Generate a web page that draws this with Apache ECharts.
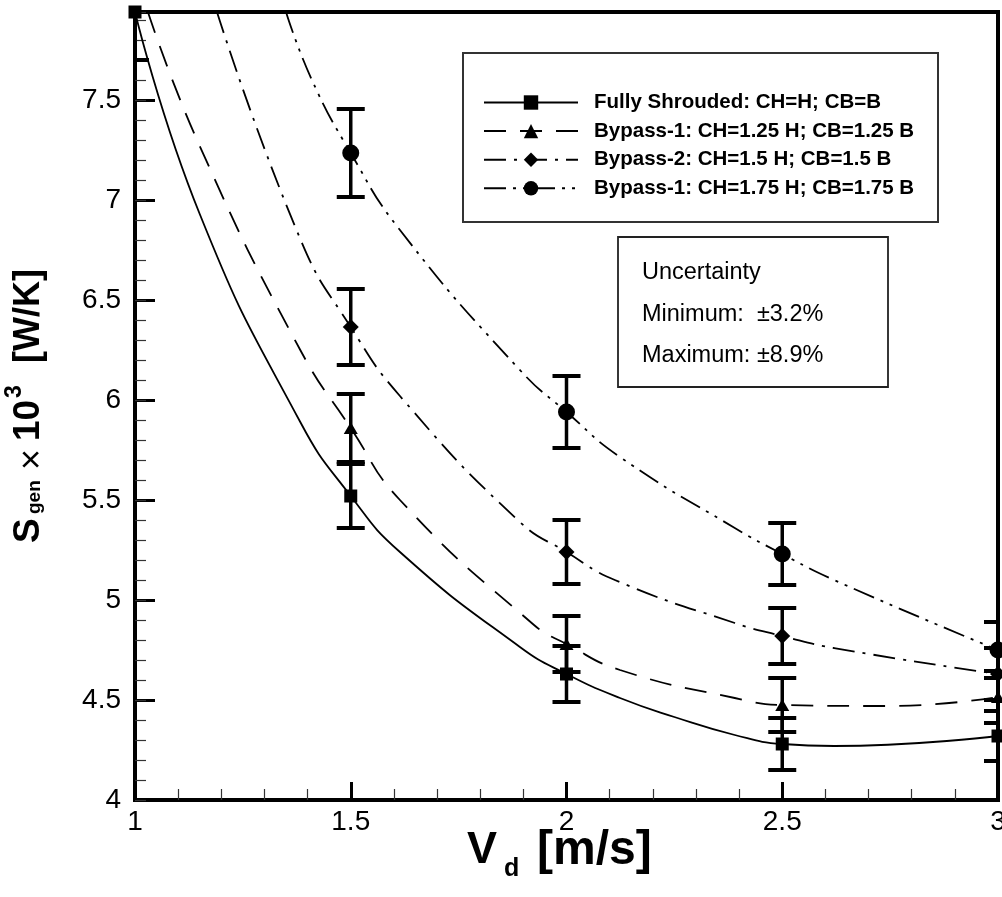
<!DOCTYPE html>
<html>
<head>
<meta charset="utf-8">
<script src="https://cdn.jsdelivr.net/npm/echarts@6/dist/echarts.min.js"></script>
<style>
html,body{margin:0;padding:0;background:#fff;}
#c{width:1002px;height:897px;}
</style>
</head>
<body>
<div id="c"></div>
<script>
// ---------- data ----------
const velocity = [1, 1.5, 2, 2.5, 3];                 // V_d [m/s]
const xTicks = [1, 1.5, 2, 2.5, 3];
const yTicks = [4, 4.5, 5, 5.5, 6, 6.5, 7, 7.5];

// measured points (S_gen x 10^3 [W/K]) and uncertainty half-heights
const fullyShrouded    = [7.94, 5.52, 4.63, 4.28, 4.32];
const fullyShroudedErr = [0.24, 0.16, 0.14, 0.13, 0.125];
const bypass125        = [null, 5.86, 4.78, 4.475, 4.515];
const bypass125Err     = [null, 0.17, 0.14, 0.135, 0.13];
const bypass150        = [null, 6.365, 5.24, 4.82, 4.63];
const bypass150Err     = [null, 0.19, 0.16, 0.14, 0.13];
const bypass175        = [null, 7.235, 5.94, 5.23, 4.75];
const bypass175Err     = [null, 0.22, 0.18, 0.155, 0.14];

// fitted curves
const fitFullyX = [1, 1.15, 1.383, 1.5, 1.614, 1.892, 2, 2.124, 2.25, 2.39, 2.5, 2.62, 3];
const fitFullyY = [7.94, 6.93, 5.89, 5.52, 5.24, 4.765, 4.63, 4.51, 4.415, 4.325, 4.28, 4.27, 4.32];
const fit125X = [1.03, 1.15, 1.383, 1.5, 1.614, 1.922, 2, 2.124, 2.39, 2.5, 2.75, 3];
const fit125Y = [7.94, 7.27, 6.25, 5.86, 5.5, 4.88, 4.78, 4.65, 4.51, 4.475, 4.47, 4.515];
const fit150X = [1.19, 1.386, 1.5, 1.614, 1.892, 2, 2.112, 2.39, 2.5, 2.62, 3];
const fit150Y = [7.94, 6.79, 6.365, 6.02, 5.39, 5.24, 5.10, 4.885, 4.82, 4.76, 4.63];
const fit175X = [1.35, 1.41, 1.5, 1.614, 1.892, 2, 2.124, 2.39, 2.5, 2.62, 3];
const fit175Y = [7.94, 7.6, 7.235, 6.85, 6.15, 5.94, 5.715, 5.36, 5.23, 5.10, 4.75];

const seriesNames = [
  'Fully Shrouded: CH=H; CB=B',
  'Bypass-1: CH=1.25 H; CB=1.25 B',
  'Bypass-2: CH=1.5 H; CB=1.5 B',
  'Bypass-1: CH=1.75 H; CB=1.75 B'
];
const uncertaintyLines = ['Uncertainty', 'Minimum:  \u00b13.2%', 'Maximum: \u00b18.9%'];

// ---------- chart ----------
const FONT = "'Liberation Sans', Arial, Helvetica, sans-serif";
const Y_MIN = 4, Y_MAX = 7.94;

function pairs(xs, ys) { return xs.map((x, i) => [x, ys[i]]); }
function points(xs, ys, es) {
  const out = [];
  xs.forEach((x, i) => { if (ys[i] != null) out.push([x, ys[i], es[i]]); });
  return out;
}

const groups = [
  { name: seriesNames[0], symbol: 'rect',     size: 13,       dash: 'solid',               fx: fitFullyX, fy: fitFullyY, y: fullyShrouded, e: fullyShroudedErr },
  { name: seriesNames[1], symbol: 'triangle', size: [14, 12], dash: [22, 14],              fx: fit125X,   fy: fit125Y,   y: bypass125,     e: bypass125Err },
  { name: seriesNames[2], symbol: 'diamond',  size: 16,       dash: [22, 8, 3, 8],         fx: fit150X,   fy: fit150Y,   y: bypass150,     e: bypass150Err },
  { name: seriesNames[3], symbol: 'circle',   size: 17,       dash: [22, 7, 3, 7, 3, 7],   fx: fit175X,   fy: fit175Y,   y: bypass175,     e: bypass175Err }
];

function renderErr(params, api) {
  const x = api.value(0), y = api.value(1), e = api.value(2);
  const top = api.coord([x, y + e]);
  const bot = api.coord([x, y - e]);
  const half = 14;
  const st = { stroke: '#000', lineWidth: 4 };
  return {
    type: 'group',
    children: [
      { type: 'line', shape: { x1: top[0], y1: top[1], x2: bot[0], y2: bot[1] }, style: { stroke: '#000', lineWidth: 3.5 } },
      { type: 'line', shape: { x1: top[0] - half, y1: top[1], x2: top[0] + half, y2: top[1] }, style: st },
      { type: 'line', shape: { x1: bot[0] - half, y1: bot[1], x2: bot[0] + half, y2: bot[1] }, style: st }
    ]
  };
}

const series = [];
groups.forEach(g => {
  series.push({
    name: g.name, type: 'line', data: pairs(g.fx, g.fy),
    smooth: 0.5, symbol: g.symbol, showSymbol: false, z: 2,
    lineStyle: { color: '#000', width: 1.8, type: g.dash },
    itemStyle: { color: '#000' },
    emphasis: { disabled: true }, silent: true
  });
});
groups.forEach(g => {
  series.push({
    name: g.name + ' err', type: 'custom', data: points(velocity, g.y, g.e),
    renderItem: renderErr, clip: true, z: 3, silent: true,
    encode: { x: 0, y: 1 }
  });
});
groups.forEach(g => {
  series.push({
    name: g.name + ' pts', type: 'scatter', data: points(velocity, g.y, g.e).map(p => [p[0], p[1]]),
    symbol: g.symbol, symbolSize: g.size, z: 4, silent: true, clip: false,
    itemStyle: { color: '#000', opacity: 1 }, emphasis: { disabled: true }
  });
});

const tickFont = { fontFamily: FONT, fontSize: 28, color: '#000' };

const option = {
  animation: false,
  backgroundColor: '#fff',
  grid: {
    left: 135, right: 4, top: 12, bottom: 97,
    outerBoundsMode: 'none', containLabel: false,
    show: true, borderColor: '#000', borderWidth: 4, backgroundColor: 'transparent'
  },
  xAxis: {
    type: 'value', min: xTicks[0], max: xTicks[xTicks.length - 1], interval: 0.5,
    axisLine: { show: true, onZero: false, lineStyle: { color: '#000', width: 4 } },
    axisTick: { inside: true, length: 18, lineStyle: { color: '#000', width: 3 } },
    minorTick: { show: true, splitNumber: 5, length: 11, lineStyle: { color: '#333', width: 1.2 } },
    axisLabel: Object.assign({ margin: 8 }, tickFont),
    splitLine: { show: false }
  },
  yAxis: [
    {
      type: 'value', min: Y_MIN, max: Y_MAX, interval: 0.5, position: 'left',
      axisLine: { show: true, lineStyle: { color: '#000', width: 4 } },
      axisTick: { inside: true, length: 20, lineStyle: { color: '#000', width: 3 } },
      axisLabel: Object.assign({ margin: 14, showMaxLabel: false,
        formatter: v => (yTicks.indexOf(Math.round(v * 10) / 10) >= 0 ? String(Math.round(v * 10) / 10) : '') }, tickFont),
      splitLine: { show: false }
    },
    {
      type: 'value', min: Y_MIN, max: Y_MAX, interval: 0.1, position: 'left',
      axisLine: { show: false },
      axisTick: { inside: true, length: 11, lineStyle: { color: '#333', width: 1.2 } },
      axisLabel: { show: false },
      splitLine: { show: false }
    }
  ],
  legend: {
    data: seriesNames, orient: 'vertical', left: 483, top: 92, padding: 0,
    itemWidth: 94, itemHeight: 18, itemGap: 7.6, selectedMode: false,
    textStyle: { fontFamily: FONT, fontSize: 20.5, fontWeight: 'bold', color: '#000', lineHeight: 20, padding: [0, 0, 0, 11] }
  },
  graphic: [
    { type: 'rect', z: 1, shape: { x: 463, y: 53, width: 475, height: 169 }, style: { fill: '#fff', stroke: '#333', lineWidth: 2 } },
    { type: 'rect', z: 1, shape: { x: 618, y: 237, width: 270, height: 150 }, style: { fill: '#fff', stroke: '#222', lineWidth: 1.8 } },
    { type: 'text', z: 10, x: 642, y: 273, style: { text: uncertaintyLines[0], fontFamily: FONT, fontSize: 23.5, fill: '#000', align: 'left', verticalAlign: 'middle' } },
    { type: 'text', z: 10, x: 642, y: 315, style: { text: uncertaintyLines[1], fontFamily: FONT, fontSize: 23.5, fill: '#000', align: 'left', verticalAlign: 'middle' } },
    { type: 'text', z: 10, x: 642, y: 356, style: { text: uncertaintyLines[2], fontFamily: FONT, fontSize: 23.5, fill: '#000', align: 'left', verticalAlign: 'middle' } },
    // y axis title: S_gen x 10^3 [W/K]
    { type: 'text', z: 10, x: 29, y: 543, rotation: Math.PI / 2, style: { text: 'S', fontFamily: FONT, fontSize: 37, fontWeight: 'bold', fill: '#000', align: 'left', verticalAlign: 'middle' } },
    { type: 'text', z: 10, x: 35, y: 514, rotation: Math.PI / 2, style: { text: 'gen', fontFamily: FONT, fontSize: 19, fontWeight: 'bold', fill: '#000', align: 'left', verticalAlign: 'middle' } },
    { type: 'text', z: 10, x: 33, y: 470, rotation: Math.PI / 2, style: { text: '\u00d7', fontFamily: FONT, fontSize: 36, fill: '#000', align: 'left', verticalAlign: 'middle' } },
    { type: 'text', z: 10, x: 29, y: 441, rotation: Math.PI / 2, style: { text: '10', fontFamily: FONT, fontSize: 37, fontWeight: 'bold', fill: '#000', align: 'left', verticalAlign: 'middle' } },
    { type: 'text', z: 10, x: 15, y: 398, rotation: Math.PI / 2, style: { text: '3', fontFamily: FONT, fontSize: 23, fontWeight: 'bold', fill: '#000', align: 'left', verticalAlign: 'middle' } },
    { type: 'text', z: 10, x: 29, y: 363, rotation: Math.PI / 2, style: { text: '[W/K]', fontFamily: FONT, fontSize: 36, fontWeight: 'bold', fill: '#000', align: 'left', verticalAlign: 'middle' } },
    // x axis title: V_d [m/s]
    { type: 'text', z: 10, x: 467, y: 851, style: { text: 'V', fontFamily: FONT, fontSize: 45, fontWeight: 'bold', fill: '#000', align: 'left', verticalAlign: 'middle' } },
    { type: 'text', z: 10, x: 504, y: 869, style: { text: 'd', fontFamily: FONT, fontSize: 25, fontWeight: 'bold', fill: '#000', align: 'left', verticalAlign: 'middle' } },
    { type: 'text', z: 10, x: 537, y: 851, style: { text: '[m/s]', fontFamily: FONT, fontSize: 48, fontWeight: 'bold', fill: '#000', align: 'left', verticalAlign: 'middle' } }
  ],
  series: series
};

const chart = echarts.init(document.getElementById('c'), null, { renderer: 'canvas' });
chart.setOption(option);
</script>
</body>
</html>
